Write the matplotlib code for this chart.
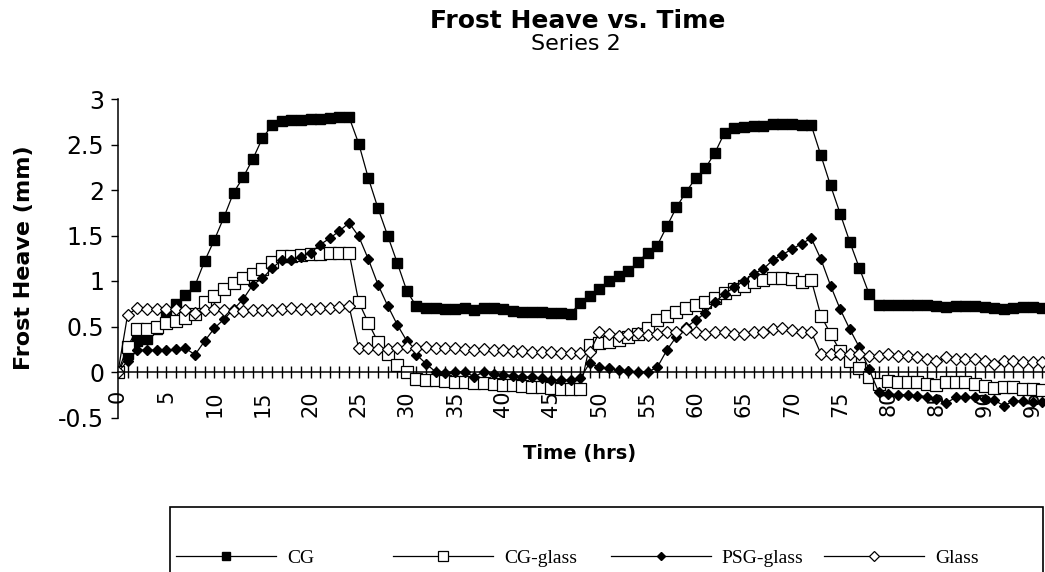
"""
Frost heave vs. time, series 2.
"""
import numpy as np
import matplotlib
matplotlib.use('Agg')
import matplotlib.pyplot as plt
from matplotlib.patches import Rectangle
from matplotlib.ticker import MultipleLocator, FormatStrFormatter

# Frost heave (mm), one reading per hour
cg = [0.00, 0.20, 0.34, 0.36, 0.47, 0.62, 0.75, 0.85, 0.95, 1.22,
      1.45, 1.70, 1.97, 2.14, 2.34, 2.57, 2.71, 2.76, 2.77, 2.77,
      2.78, 2.78, 2.79, 2.80, 2.80, 2.51, 2.13, 1.80, 1.50, 1.20,
      0.89, 0.72, 0.70, 0.70, 0.69, 0.69, 0.70, 0.68, 0.70, 0.70,
      0.69, 0.67, 0.66, 0.66, 0.66, 0.65, 0.65, 0.64, 0.76, 0.83,
      0.91, 1.00, 1.06, 1.11, 1.21, 1.31, 1.39, 1.60, 1.81, 1.98,
      2.13, 2.24, 2.41, 2.63, 2.68, 2.69, 2.70, 2.70, 2.72, 2.73,
      2.72, 2.71, 2.71, 2.38, 2.05, 1.74, 1.43, 1.14, 0.86, 0.74,
      0.74, 0.74, 0.74, 0.74, 0.74, 0.72, 0.71, 0.73, 0.73, 0.72,
      0.71, 0.70, 0.69, 0.70, 0.71, 0.71, 0.70]

cg_glass = [0.00, 0.28, 0.47, 0.47, 0.50, 0.54, 0.56, 0.59, 0.64, 0.77,
            0.84, 0.91, 0.98, 1.03, 1.08, 1.13, 1.21, 1.27, 1.28, 1.29,
            1.30, 1.30, 1.31, 1.31, 1.31, 0.77, 0.54, 0.33, 0.20, 0.08,
            0.00, -0.08, -0.09, -0.09, -0.10, -0.11, -0.11, -0.12, -0.12, -0.13,
            -0.14, -0.14, -0.15, -0.16, -0.17, -0.18, -0.19, -0.19, -0.19, 0.30,
            0.32, 0.33, 0.35, 0.38, 0.42, 0.48, 0.57, 0.62, 0.66, 0.70,
            0.74, 0.77, 0.81, 0.87, 0.91, 0.95, 0.99, 1.01, 1.03, 1.03,
            1.02, 0.99, 1.01, 0.62, 0.42, 0.23, 0.12, 0.04, -0.05, -0.13,
            -0.10, -0.11, -0.11, -0.11, -0.13, -0.14, -0.11, -0.11, -0.11, -0.13,
            -0.15, -0.18, -0.17, -0.17, -0.19, -0.19, -0.20]

psg_glass = [0.00, 0.12, 0.24, 0.24, 0.24, 0.24, 0.25, 0.26, 0.19, 0.34,
             0.48, 0.58, 0.69, 0.80, 0.96, 1.03, 1.14, 1.23, 1.23, 1.26,
             1.31, 1.40, 1.47, 1.55, 1.64, 1.49, 1.24, 0.96, 0.73, 0.52,
             0.34, 0.19, 0.09, 0.00, -0.01, 0.00, 0.00, -0.05, 0.00, -0.02,
             -0.03, -0.04, -0.05, -0.06, -0.07, -0.09, -0.09, -0.09, -0.07, 0.10,
             0.05, 0.04, 0.02, 0.01, 0.00, 0.00, 0.05, 0.24, 0.39, 0.49,
             0.57, 0.65, 0.77, 0.86, 0.93, 1.00, 1.08, 1.13, 1.23, 1.29,
             1.35, 1.41, 1.47, 1.24, 0.95, 0.69, 0.47, 0.27, 0.03, -0.22,
             -0.24, -0.25, -0.25, -0.26, -0.27, -0.30, -0.34, -0.28, -0.28, -0.28,
             -0.30, -0.31, -0.37, -0.32, -0.32, -0.33, -0.33]

glass = [0.00, 0.63, 0.70, 0.69, 0.69, 0.69, 0.69, 0.68, 0.65, 0.68,
         0.69, 0.68, 0.67, 0.67, 0.68, 0.68, 0.68, 0.69, 0.70, 0.69,
         0.69, 0.70, 0.70, 0.71, 0.72, 0.26, 0.26, 0.25, 0.25, 0.26,
         0.27, 0.26, 0.27, 0.26, 0.26, 0.26, 0.25, 0.24, 0.25, 0.24,
         0.24, 0.23, 0.23, 0.22, 0.22, 0.22, 0.21, 0.21, 0.21, 0.22,
         0.44, 0.42, 0.40, 0.42, 0.43, 0.41, 0.42, 0.44, 0.44, 0.47,
         0.44, 0.42, 0.44, 0.44, 0.42, 0.42, 0.44, 0.44, 0.47, 0.48,
         0.46, 0.44, 0.44, 0.20, 0.20, 0.20, 0.20, 0.20, 0.18, 0.18,
         0.20, 0.18, 0.18, 0.16, 0.14, 0.12, 0.16, 0.14, 0.14, 0.14,
         0.12, 0.09, 0.12, 0.12, 0.11, 0.11, 0.11]

hours = np.arange(len(cg))

plt.rcParams.update({
    'font.family': 'DejaVu Sans',
    'axes.unicode_minus': False,
})

fig = plt.figure(figsize=(10.45, 5.72), dpi=100)
# axes run past the right edge of the figure, like the cropped scan
ax = fig.add_axes([118 / 1045, 154.5 / 572, 934 / 1045, 318.5 / 572])

line_kw = dict(color='black', linewidth=0.9)
lines = []
lines += ax.plot(hours, cg, marker='s', markersize=7.2, markerfacecolor='black',
                 markeredgecolor='black', label='CG', **line_kw)
lines += ax.plot(hours, cg_glass, marker='s', markersize=8.5, markerfacecolor='white',
                 markeredgecolor='black', markeredgewidth=0.9, label='CG-glass', **line_kw)
lines += ax.plot(hours, psg_glass, marker='D', markersize=5.3, markerfacecolor='black',
                 markeredgecolor='black', label='PSG-glass', **line_kw)
lines += ax.plot(hours, glass, marker='D', markersize=6.0, markerfacecolor='white',
                 markeredgecolor='black', markeredgewidth=0.9, label='Glass', **line_kw)

ax.set_xlim(0, 97)
ax.set_ylim(-0.5, 3)

# Excel style axes: category axis crosses at zero
for side in ['top', 'right']:
    ax.spines[side].set_visible(False)
ax.spines['bottom'].set_position(('data', 0))
ax.spines['bottom'].set_linewidth(1.1)
ax.spines['left'].set_linewidth(1.1)

ax.xaxis.set_major_locator(MultipleLocator(5))
ax.xaxis.set_minor_locator(MultipleLocator(1))
ax.tick_params(axis='x', which='both', direction='inout', length=8, width=1.0)
ax.tick_params(axis='x', which='major', labelsize=15, pad=9, labelrotation=90)
ax.yaxis.set_major_locator(MultipleLocator(0.5))
ax.yaxis.set_major_formatter(FormatStrFormatter('%g'))
ax.tick_params(axis='y', direction='out', length=5, width=1.0, labelsize=17, pad=5)

fig.text(0.553, 0.963, 'Frost Heave vs. Time', ha='center', va='center',
         fontsize=18, fontweight='bold')
fig.text(0.551, 0.923, 'Series 2', ha='center', va='center', fontsize=16)
fig.text(0.555, 0.208, 'Time (hrs)', ha='center', va='center',
         fontsize=14, fontweight='bold')
fig.text(0.023, 0.549, 'Frost Heave (mm)', ha='center', va='center',
         rotation=90, fontsize=16, fontweight='bold')

# Legend box, cut off by the bottom of the page
fig.patches.append(Rectangle((170 / 1045, -0.05), 873 / 1045, 0.1636,
                             transform=fig.transFigure, fill=False,
                             edgecolor='black', linewidth=1.2))
# one entry every 217 px, as in the original
for line, x_px in zip(lines, [176, 393, 611, 824]):
    fig.legend(handles=[line], loc='center left',
               bbox_to_anchor=(x_px / 1045, 0.0245), frameon=False,
               markerscale=0.8, handlelength=5.15, handletextpad=0.55,
               borderpad=0, borderaxespad=0,
               prop={'family': 'Liberation Serif', 'size': 14})

fig.savefig('out.png', dpi=100)
